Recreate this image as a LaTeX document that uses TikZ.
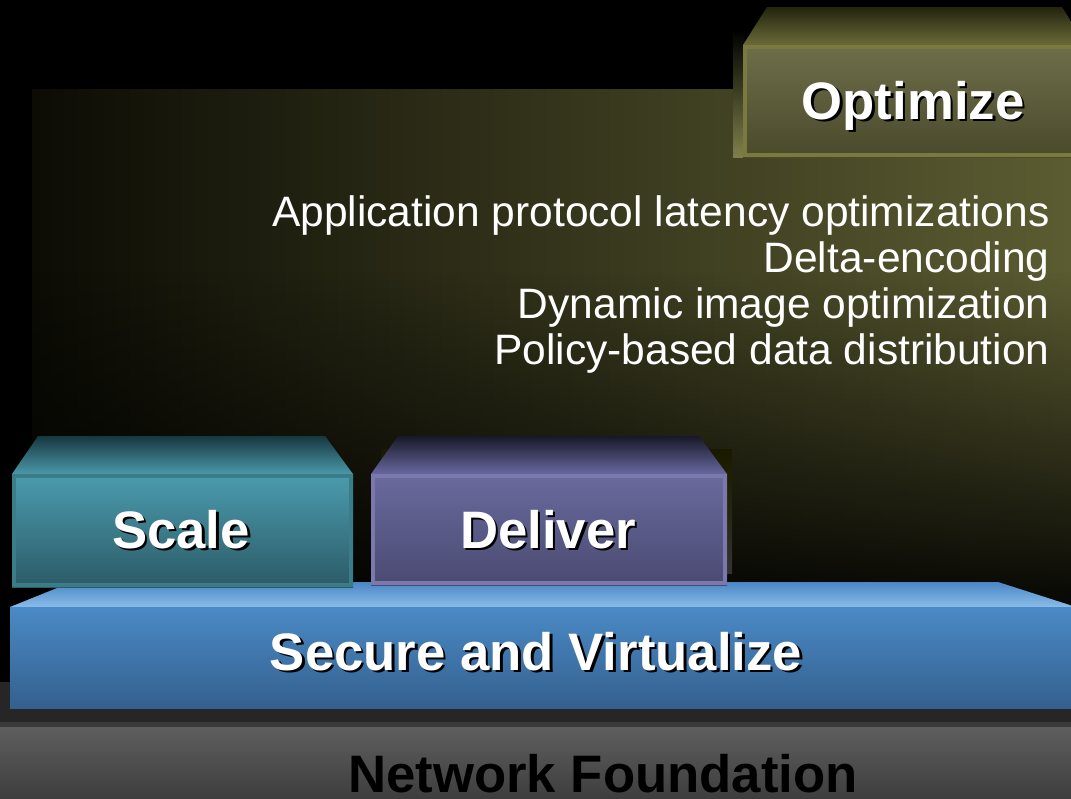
\documentclass[tikz,border=0pt]{standalone}
\usepackage{fontspec}
\setmainfont{Liberation Sans}
\usetikzlibrary{fadings}
\definecolor{panL}{HTML}{0C0C05}
\definecolor{panM}{HTML}{2C2C18}
\definecolor{panR}{HTML}{5C5C32}
\definecolor{scTopA}{HTML}{173740}
\definecolor{scTopB}{HTML}{4A98A8}
\definecolor{scFrA}{HTML}{4A9CAE}
\definecolor{scFrB}{HTML}{2C5A66}
\definecolor{scBd}{HTML}{3A7C88}
\definecolor{dlTopA}{HTML}{181828}
\definecolor{dlTopB}{HTML}{6868A0}
\definecolor{dlFrA}{HTML}{6A6A9E}
\definecolor{dlFrB}{HTML}{4A4A72}
\definecolor{dlBd}{HTML}{7A78AC}
\definecolor{opTopA}{HTML}{24240F}
\definecolor{opTopB}{HTML}{6A6A38}
\definecolor{opFrA}{HTML}{6E6E4A}
\definecolor{opFrB}{HTML}{4A4A2C}
\definecolor{opBd}{HTML}{7A7A3E}
\definecolor{svTopA}{HTML}{4A86C6}
\definecolor{svTopB}{HTML}{8ABCE8}
\definecolor{svFrA}{HTML}{4A8AC6}
\definecolor{svFrB}{HTML}{34608E}
\definecolor{nfDark}{HTML}{262626}
\definecolor{nfLine}{HTML}{3A3A3A}
\definecolor{nfA}{HTML}{5E5E5E}
\definecolor{nfB}{HTML}{3E3E3E}
\tikzset{
  title/.style={font=\bfseries\fontsize{30}{36}\selectfont, text=white, anchor=base, inner sep=0pt},
  tshadow/.style={font=\bfseries\fontsize{30}{36}\selectfont, text=black, anchor=base, inner sep=0pt},
  body/.style={font=\fontsize{24.2}{29}\selectfont, text=white, anchor=base east, inner sep=0pt},
  frame/.style={line width=0.08cm}
}
\begin{document}
\begin{tikzpicture}[x=0.02cm, y=-0.02cm]
\useasboundingbox (0,0) rectangle (1071,798);
\fill[black] (0,0) rectangle (1071,798);
% background panel
\shade[left color=panL, middle color=panM, right color=panR] (32,89) rectangle (1071,682);
\fill[black, path fading=north, fill opacity=0.9] (32,270) rectangle (1071,600);
\fill[black, fill opacity=0.9] (32,600) rectangle (1071,682);
% network foundation band
\fill[nfDark] (0,682) rectangle (1071,722);
\fill[nfLine] (0,722) rectangle (1071,727);
\shade[top color=nfA, bottom color=nfB] (0,727) rectangle (1071,798);
\node[tshadow] (nf) at (603,792) {Network Foundation};
% secure and virtualize
\shade[top color=svTopA, bottom color=svTopB] (72,582) -- (998,582) -- (1076,607) -- (10,607) -- cycle;
\shade[top color=svFrA, bottom color=svFrB] (10,607) rectangle (1071,708);
\node[tshadow] (svs) at (538.5,672.5) {Secure and Virtualize};
\node[title] (sv) at (536,670) {Secure and Virtualize};
% scale
\shade[top color=scTopA, bottom color=scTopB] (38,436) -- (325,436) -- (353,474) -- (12,474) -- cycle;
\shade[top color=scFrA, bottom color=scFrB] (12,474) rectangle (353,587);
\draw[frame, scBd] (14,476) rectangle (351,585);
\node[tshadow] (scs) at (183.5,550.5) {Scale};
\node[title] (sc) at (181,548) {Scale};
% deliver
\shade[top color=black!80!olive, bottom color=black!60!gray] (381,449) rectangle (732,573);
\shade[top color=dlTopA, bottom color=dlTopB] (398,436) -- (699,436) -- (727,474) -- (371,474) -- cycle;
\shade[top color=dlFrA, bottom color=dlFrB] (371,474) rectangle (727,585);
\draw[frame, dlBd] (373,476) rectangle (725,583);
\node[tshadow] (dls) at (550.5,550.5) {Deliver};
\node[title] (dl) at (548,548) {Deliver};
% optimize
\shade[top color=black, bottom color=gray!80!olive] (733,30) rectangle (745,157);
\shade[top color=opTopA, bottom color=opTopB] (767,7) -- (1062,7) -- (1086,45) -- (743,45) -- cycle;
\shade[top color=opFrA, bottom color=opFrB] (743,45) rectangle (1080,157);
\draw[frame, opBd] (745,47) rectangle (1078,155);
\node[tshadow] (ops) at (915.5,121.5) {Optimize};
\node[title] (op) at (913,119) {Optimize};
% body text
\node[body] (l1) at (1050,226) {Application protocol latency optimizations};
\node[body] (l2) at (1050,272) {Delta-encoding};
\node[body] (l3) at (1050,318) {Dynamic image optimization};
\node[body] (l4) at (1050,364) {Policy-based data distribution};
\end{tikzpicture}
\end{document}
